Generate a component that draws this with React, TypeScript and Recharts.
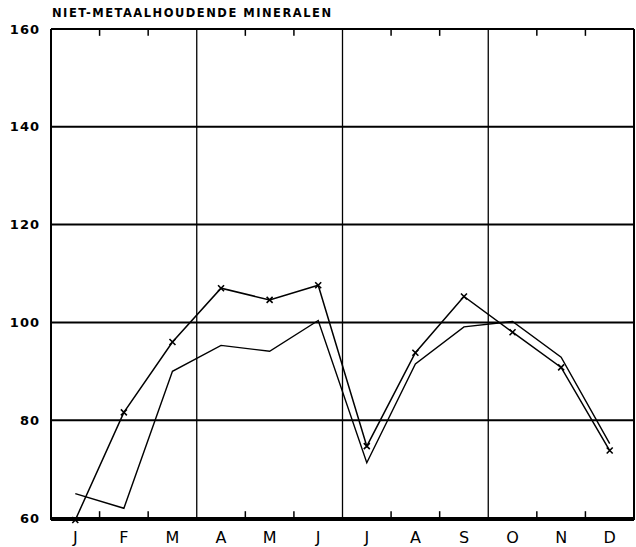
import { LineChart, Line, XAxis, YAxis, CartesianGrid, ReferenceLine } from 'recharts';

const months = ['J', 'F', 'M', 'A', 'M', 'J', 'J', 'A', 'S', 'O', 'N', 'D'];
// line with x markers
const crossSeries = [59.6, 81.6, 96, 107, 104.6, 107.6, 74.7, 93.8, 105.3, 98, 90.8, 73.8];
// plain line
const plainSeries = [65, 62, 90, 95.3, 94.1, 100.4, 71.3, 91.5, 99.1, 100.2, 92.9, 75.2];
const yTicks = [60, 80, 100, 120, 140, 160];
const quarterLines = [3, 6, 9];
const monthTicks = [1, 2, 4, 5, 7, 8, 10, 11];

const data = months.map((m, i) => ({ x: i + 0.5, m, cross: crossSeries[i], plain: plainSeries[i] }));

const font = "'DejaVu Sans', sans-serif";
const tickLen = 1.4; // in y units

const Cross = (props: any) => {
    const { cx, cy } = props;
    if (cx == null || cy == null) return null;
    return (
        <path
            d={`M${cx - 3},${cy - 3}L${cx + 3},${cy + 3}M${cx + 3},${cy - 3}L${cx - 3},${cy + 3}`}
            stroke="#000"
            strokeWidth={1.6}
        />
    );
};

export default function App() {
    return (
        <div style={{ position: 'absolute', left: 0, top: 0, width: 636, height: 547, background: '#fff' }}>
            <div
                style={{
                    position: 'absolute',
                    left: 52,
                    top: 6,
                    fontFamily: font,
                    fontSize: 11.5,
                    fontWeight: 'bold',
                    letterSpacing: 1.5,
                    color: '#000',
                    whiteSpace: 'nowrap',
                }}
            >
                NIET-METAALHOUDENDE MINERALEN
            </div>
            <LineChart width={636} height={547} data={data} margin={{ top: 29, right: 2, bottom: 0, left: 0 }}>
                <CartesianGrid vertical={false} stroke="#000" strokeWidth={2} />
                <XAxis
                    dataKey="x"
                    type="number"
                    domain={[0, 12]}
                    ticks={data.map((d) => d.x)}
                    tickFormatter={(v: number) => months[Math.floor(v)]}
                    interval={0}
                    height={27}
                    tickLine={false}
                    tickSize={0}
                    tickMargin={12}
                    axisLine={{ stroke: '#000', strokeWidth: 2 }}
                    tick={{ fill: '#000', fontSize: 16, fontFamily: font }}
                />
                <YAxis
                    domain={[60, 160]}
                    ticks={yTicks}
                    interval={0}
                    width={51}
                    tickLine={false}
                    tickSize={0}
                    tickMargin={11}
                    axisLine={{ stroke: '#000', strokeWidth: 2 }}
                    tick={{ fill: '#000', fontSize: 13, fontFamily: font, fontWeight: 'bold', letterSpacing: 1 }}
                />
                {quarterLines.map((q) => (
                    <ReferenceLine key={q} x={q} stroke="#000" strokeWidth={1.3} />
                ))}
                {monthTicks.map((t) => (
                    <ReferenceLine
                        key={`b${t}`}
                        segment={[{ x: t, y: 60 }, { x: t, y: 60 + tickLen }]}
                        stroke="#000"
                        strokeWidth={1.5}
                        ifOverflow="visible"
                    />
                ))}
                {monthTicks.map((t) => (
                    <ReferenceLine
                        key={`t${t}`}
                        segment={[{ x: t, y: 160 }, { x: t, y: 160 - tickLen }]}
                        stroke="#000"
                        strokeWidth={1.5}
                        ifOverflow="visible"
                    />
                ))}
                <ReferenceLine x={12} stroke="#000" strokeWidth={2} />
                <ReferenceLine y={160} stroke="#000" strokeWidth={2} />
                <Line
                    type="linear"
                    dataKey="plain"
                    stroke="#000"
                    strokeWidth={1.4}
                    dot={false}
                    isAnimationActive={false}
                />
                <Line
                    type="linear"
                    dataKey="cross"
                    stroke="#000"
                    strokeWidth={1.5}
                    dot={<Cross />}
                    isAnimationActive={false}
                />
            </LineChart>
        </div>
    );
}
